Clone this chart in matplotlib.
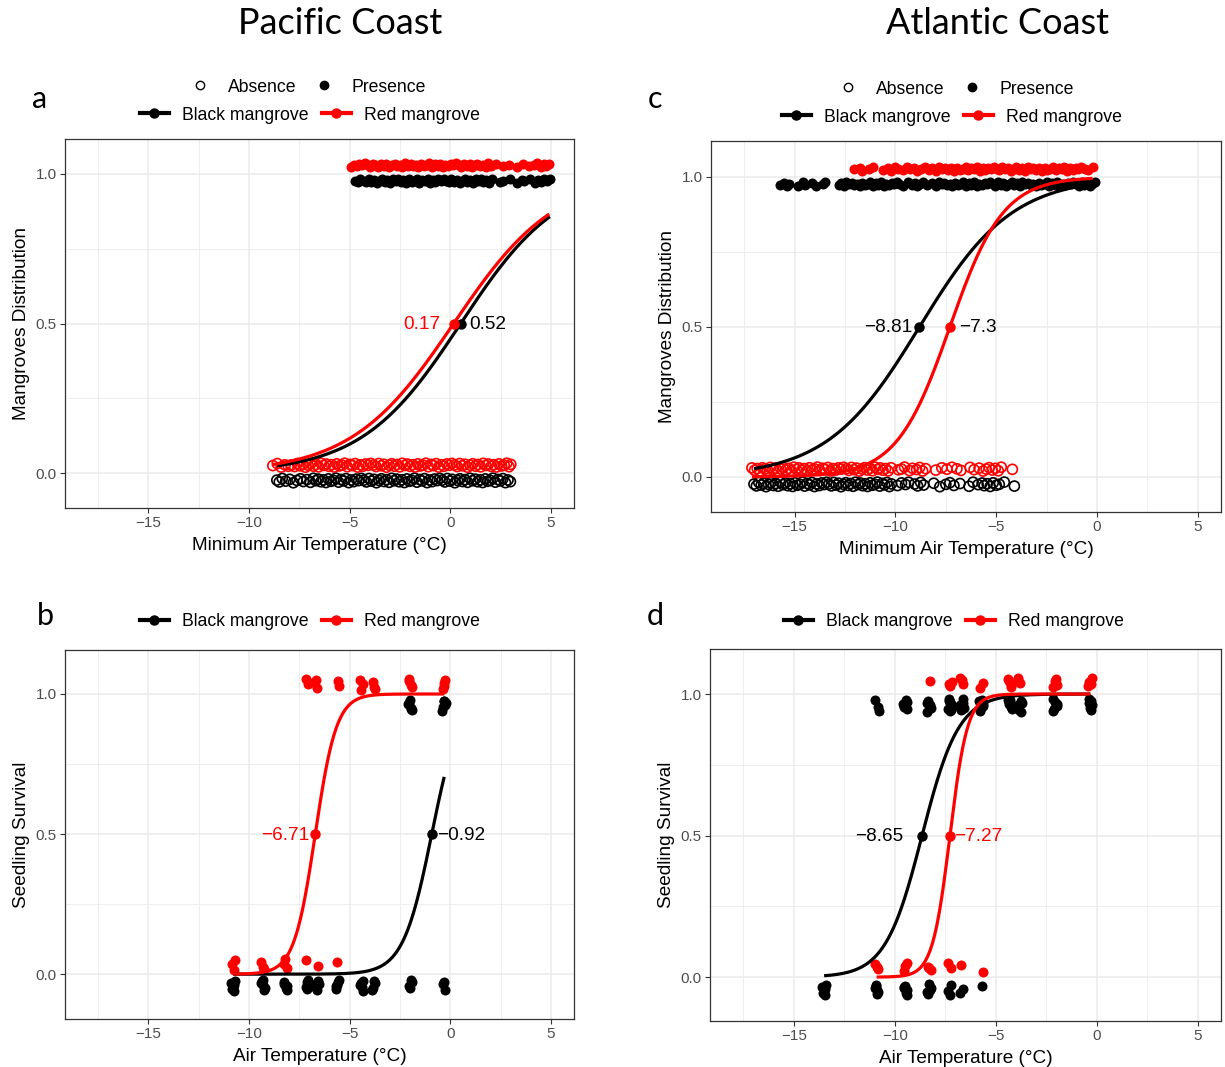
import numpy as np
import matplotlib
matplotlib.use("Agg")
import matplotlib.pyplot as plt
from matplotlib.lines import Line2D

plt.rcParams['font.family'] = ['Liberation Sans', 'DejaVu Sans']

W, H = 1225, 1067

# ---------------------------------------------------------------- data
# Pacific coast, distribution vs minimum air temperature (deg C)
pac_dist_black_pres = [
    -4.72, -4.6, -4.47, -4.31, -4.2, -4.06, -3.93, -3.79, -3.66, -3.52, -3.4,
    -3.25, -3.13, -2.98, -2.86, -2.71, -2.6, -2.46, -2.33, -2.19, -2.07, -1.92,
    -1.8, -1.66, -1.54, -1.39, -1.27, -1.12, -1.0, -0.87, -0.74, -0.6, -0.48,
    -0.33, -0.21, -0.07, 0.06, 0.2, 0.31, 0.46, 0.58, 0.73, 0.85, 0.99, 1.12,
    1.26, 1.38, 1.52, 1.65, 1.79, 1.92, 2.05, 2.45, 2.62, 2.95, 3.3, 3.55,
    3.68, 3.95, 4.2, 4.36, 4.52, 4.66, 4.8, 4.95]
pac_dist_red_pres = [
    -4.91, -4.78, -4.64, -4.52, -4.38, -4.25, -4.11, -3.99, -3.84, -3.72, -3.57,
    -3.45, -3.31, -3.18, -3.04, -2.91, -2.77, -2.65, -2.5, -2.38, -2.24, -2.11,
    -1.97, -1.85, -1.7, -1.58, -1.44, -1.31, -1.17, -1.04, -0.9, -0.78, -0.63,
    -0.51, -0.37, -0.24, -0.1, 0.02, 0.16, 0.29, 0.43, 0.55, 0.7, 0.82, 0.96,
    1.09, 1.23, 1.35, 1.5, 1.62, 1.77, 1.9, 2.02, 2.25, 2.6, 2.92, 3.3, 3.62,
    3.9, 4.18, 4.33, 4.5, 4.64, 4.78, 4.92]
pac_dist_black_abs = [
    -8.62, -8.5, -8.35, -8.18, -7.98, -7.8, -7.62, -7.45, -7.3, -7.12, -6.95,
    -6.8, -6.68, -6.56, -6.43, -6.31, -6.18, -6.06, -5.93, -5.8, -5.68, -5.55,
    -5.43, -5.3, -5.18, -5.05, -4.92, -4.8, -4.67, -4.55, -4.42, -4.3, -4.17,
    -4.04, -3.92, -3.79, -3.67, -3.54, -3.42, -3.29, -3.16, -3.04, -2.91, -2.79,
    -2.66, -2.54, -2.41, -2.28, -2.16, -2.03, -1.91, -1.78, -1.66, -1.53, -1.4,
    -1.28, -1.15, -1.03, -0.9, -0.78, -0.65, -0.52, -0.4, -0.27, -0.15, -0.02,
    0.1, 0.23, 0.36, 0.48, 0.61, 0.73, 0.86, 0.98, 1.11, 1.24, 1.36, 1.49,
    1.61, 1.74, 1.86, 1.99, 2.12, 2.24, 2.37, 2.49, 2.62, 2.74, 2.87, 2.99]
pac_dist_red_abs = [
    -8.82, -8.6, -8.4, -8.22, -8.05, -7.9, -7.74, -7.6, -7.47, -7.33, -7.2,
    -7.07, -6.94, -6.81, -6.68, -6.55, -6.42, -6.29, -6.16, -6.03, -5.9, -5.77,
    -5.64, -5.51, -5.38, -5.25, -5.12, -4.99, -4.86, -4.73, -4.6, -4.47, -4.34,
    -4.21, -4.08, -3.95, -3.82, -3.69, -3.56, -3.43, -3.3, -3.17, -3.04, -2.91,
    -2.78, -2.65, -2.52, -2.39, -2.26, -2.13, -2.0, -1.87, -1.74, -1.61, -1.48,
    -1.35, -1.22, -1.09, -0.96, -0.83, -0.7, -0.57, -0.44, -0.31, -0.18, -0.05,
    0.08, 0.21, 0.34, 0.47, 0.6, 0.73, 0.86, 0.99, 1.12, 1.25, 1.38, 1.51,
    1.64, 1.77, 1.9, 2.03, 2.16, 2.29, 2.42, 2.55, 2.68, 2.81, 2.92, 3.01]

# Atlantic coast, distribution vs minimum air temperature (deg C)
atl_dist_black_pres = [
    -15.72, -15.55, -15.4, -15.3, -14.82, -14.6, -14.48, -14.12, -13.95, -13.58,
    -13.5, -12.82, -12.7, -12.56, -12.43, -12.3, -12.17, -12.04, -11.9, -11.78,
    -11.64, -11.51, -11.38, -11.25, -11.11, -10.98, -10.85, -10.72, -10.58,
    -10.45, -10.32, -10.19, -10.05, -9.93, -9.8, -9.62, -9.38, -9.2, -9.05,
    -8.92, -8.78, -8.62, -8.45, -8.2, -7.98, -7.84, -7.7, -7.57, -7.43, -7.3,
    -7.17, -7.04, -6.9, -6.77, -6.64, -6.5, -6.37, -6.24, -6.1, -5.97, -5.84,
    -5.7, -5.57, -5.44, -5.3, -5.17, -5.04, -4.9, -4.77, -4.64, -4.5, -4.37,
    -4.24, -4.1, -3.97, -3.84, -3.7, -3.57, -3.44, -3.3, -3.17, -3.04, -2.9,
    -2.77, -2.64, -2.5, -2.37, -2.24, -2.1, -1.97, -1.84, -1.7, -1.57, -1.44,
    -1.3, -1.17, -1.04, -0.9, -0.77, -0.64, -0.5, -0.37, -0.25, -0.12]
atl_dist_red_pres = [
    -12.05, -11.75, -11.68, -11.3, -11.1, -10.6, -10.35, -10.2, -10.0, -9.85,
    -9.62, -9.45, -9.3, -9.1, -8.95, -8.72, -8.55, -8.35, -8.2, -8.0, -7.85,
    -7.7, -7.52, -7.38, -7.22, -7.08, -6.93, -6.8, -6.66, -6.52, -6.38, -6.24,
    -6.1, -5.96, -5.82, -5.68, -5.54, -5.4, -5.26, -5.12, -4.98, -4.84, -4.7,
    -4.56, -4.42, -4.28, -4.14, -4.0, -3.86, -3.72, -3.58, -3.44, -3.3, -3.16,
    -3.02, -2.88, -2.74, -2.6, -2.46, -2.32, -2.18, -2.04, -1.9, -1.76, -1.62,
    -1.48, -1.34, -1.2, -1.06, -0.92, -0.78, -0.62, -0.45, -0.22]
atl_dist_black_abs = [
    -17.02, -16.9, -16.78, -16.66, -16.54, -16.42, -16.3, -16.18, -16.06,
    -15.94, -15.82, -15.7, -15.58, -15.46, -15.34, -15.22, -15.1, -14.98,
    -14.86, -14.74, -14.62, -14.5, -14.38, -14.26, -14.14, -14.02, -13.9,
    -13.78, -13.66, -13.54, -13.42, -13.3, -13.18, -13.06, -12.94, -12.82,
    -12.7, -12.58, -12.46, -12.34, -12.22, -12.1, -11.98, -11.86, -11.74,
    -11.62, -11.5, -11.38, -11.26, -11.14, -11.02, -10.9, -10.78, -10.66,
    -10.54, -10.42, -10.3, -10.2, -9.9, -9.7, -9.5, -9.35, -9.05, -8.9, -8.75,
    -8.6, -8.1, -7.8, -7.5, -7.3, -7.1, -6.8, -6.35, -6.15, -5.9, -5.7, -5.6,
    -5.45, -5.3, -5.15, -5.0, -4.85, -4.6, -4.1]
atl_dist_red_abs = [
    -17.12, -16.99, -16.86, -16.73, -16.6, -16.47, -16.34, -16.21, -16.08,
    -15.95, -15.82, -15.69, -15.56, -15.43, -15.3, -15.17, -15.04, -14.91,
    -14.78, -14.65, -14.52, -14.39, -14.26, -14.13, -14.0, -13.87, -13.74,
    -13.61, -13.48, -13.35, -13.22, -13.09, -12.96, -12.83, -12.7, -12.57,
    -12.44, -12.31, -12.18, -12.05, -11.92, -11.79, -11.66, -11.53, -11.4,
    -11.27, -11.14, -11.01, -10.88, -10.75, -10.62, -10.49, -10.36, -10.22,
    -9.85, -9.7, -9.55, -9.3, -9.15, -8.95, -8.8, -8.65, -8.5, -8.0, -7.7,
    -7.45, -7.2, -6.95, -6.75, -6.3, -6.1, -5.85, -5.65, -5.5, -5.35, -5.2,
    -5.05, -4.9, -4.75, -4.2]

# Seedling survival experiments: treatment temperatures and seedling counts
pac_surv_temps = [-10.8, -9.3, -8.2, -7.1, -6.6, -5.6, -4.4, -3.8, -2.0, -0.3]
pac_surv_black_alive = [0, 0, 0, 0, 0, 0, 0, 0, 6, 6]
pac_surv_black_dead = [6, 6, 5, 6, 5, 5, 5, 4, 4, 3]
pac_surv_red_alive = [0, 0, 0, 3, 2, 2, 3, 3, 4, 4]
pac_surv_red_dead = [3, 3, 3, 1, 1, 1, 0, 0, 0, 0]

atl_surv_temps = [-13.5, -10.9, -9.47, -8.3, -7.26, -6.68, -5.72, -4.3, -3.82, -2.06, -0.32]
atl_surv_black_alive = [0, 3, 6, 5, 8, 6, 6, 6, 6, 6, 6]
atl_surv_black_dead = [6, 6, 6, 5, 3, 2, 1, 0, 0, 0, 0]
atl_surv_red_alive = [0, 0, 0, 1, 3, 3, 2, 4, 3, 4, 4]
atl_surv_red_dead = [0, 3, 3, 3, 2, 1, 1, 0, 0, 0, 0]

# Logistic fits: temperature at 50 % and slope
pac_dist_ld50 = {'black': 0.52, 'red': 0.17}
pac_dist_slope = {'black': 0.405, 'red': 0.393}
atl_dist_ld50 = {'black': -8.81, 'red': -7.3}
atl_dist_slope = {'black': 0.435, 'red': 0.757}
pac_surv_ld50 = {'black': -0.92, 'red': -6.71}
pac_surv_slope = {'black': 1.4, 'red': 1.9}
atl_surv_ld50 = {'black': -8.65, 'red': -7.27}
atl_surv_slope = {'black': 1.1, 'red': 2.3}

x_ticks = [-15, -10, -5, 0, 5]
y_ticks = [0.0, 0.5, 1.0]

# ---------------------------------------------------------------- style
COL = {'black': '#000000', 'red': '#FF0000'}
GRID = '#EBEBEB'
JIT = np.array([0.15, -0.62, 0.83, -0.27, 0.48, -0.95, 0.02, 0.71, -0.44,
                0.36, -0.78, 0.92, -0.1, 0.58, -0.53, 0.27, -0.86, 0.66,
                -0.35, 0.05, 0.97, -0.7, 0.41, -0.18, 0.79, -0.9, 0.22,
                -0.48, 0.61, -0.05, 0.88])
JIT_X = np.array([0.4, -0.6, 0.9, -0.2, -0.85, 0.55, 0.1, -0.45, 0.75, -0.95,
                  0.3, -0.3, 0.65, -0.7])
PT = 72.0 / 100.0  # points per pixel
MARK = 52

fig = plt.figure(figsize=(W / 100, H / 100), dpi=100)


def px_axes(left, top, right, bottom):
    return fig.add_axes([left / W, 1 - bottom / H, (right - left) / W, (bottom - top) / H])


def style(ax, ylim, xlabel, ylabel):
    ax.set_xlim(-19.15, 6.15)
    ax.set_ylim(*ylim)
    ax.set_xticks(x_ticks)
    ax.set_xticklabels(['\u2212' + str(-t) if t < 0 else str(t) for t in x_ticks])
    ax.set_yticks(y_ticks)
    ax.set_yticklabels([f'{t:.1f}' for t in y_ticks])
    ax.set_xticks([-17.5, -12.5, -7.5, -2.5, 2.5], minor=True)
    ax.set_yticks([0.25, 0.75], minor=True)
    ax.grid(True, which='major', color=GRID, lw=1.1)
    ax.grid(True, which='minor', color=GRID, lw=0.6)
    ax.set_axisbelow(True)
    for s in ax.spines.values():
        s.set_color('#333333')
        s.set_linewidth(0.9)
    ax.tick_params(which='major', length=3.5, width=0.8, color='#333333',
                   labelcolor='#4D4D4D', labelsize=11, pad=2.5)
    ax.tick_params(which='minor', length=0)
    ax.set_xlabel(xlabel, fontsize=13.7, labelpad=4.5)
    ax.set_ylabel(ylabel, fontsize=13.7, labelpad=4)


def band(ax, xs, yval, dodge, height, species, filled, hjit=0.0, shift=0):
    xs = np.asarray(xs, dtype=float)
    n = len(xs)
    jy = np.roll(np.resize(JIT, n), shift) * height
    jx = np.resize(JIT_X, n) * hjit
    kw = dict(s=MARK, zorder=2)
    if filled:
        ax.scatter(xs + jx, yval + dodge + jy, color=COL[species], lw=0, **kw)
    else:
        ax.scatter(xs + jx, yval + dodge + jy, facecolors='none',
                   edgecolors=COL[species], lw=1.2, **kw)


def expand(temps, counts):
    return np.repeat(np.asarray(temps, float), counts)


def curve(ax, species, xs_all, ld50, slope):
    lo, hi = min(xs_all), max(xs_all)
    x = np.linspace(lo, hi, 300)
    p = 1.0 / (1.0 + np.exp(-slope * (x - ld50)))
    ax.plot(x, p, color=COL[species], lw=2.3, zorder=4, solid_capstyle='butt')
    ax.plot([ld50], [0.5], 'o', color=COL[species], ms=6.5, zorder=5)


def label(ax, ld50, color, side, dx_px, dy_px=-1):
    txt = ('%g' % ld50).replace('-', '\u2212')
    ax.annotate(txt, (ld50, 0.5), xytext=(dx_px * PT, dy_px * PT),
                textcoords='offset points', ha='right' if side == 'left' else 'left',
                va='center', fontsize=13.7, color=color, zorder=6)


# ---------------------------------------------------------------- panel a
ax_a = px_axes(65, 139, 574, 508)
style(ax_a, (-0.117, 1.117), 'Minimum Air Temperature (\u00b0C)', 'Mangroves Distribution')
band(ax_a, pac_dist_black_abs, 0.0, -0.025, 0.008, 'black', False)
band(ax_a, pac_dist_red_abs, 0.0, 0.026, 0.007, 'red', False, shift=5)
band(ax_a, pac_dist_black_pres, 1.0, -0.023, 0.008, 'black', True, shift=3)
band(ax_a, pac_dist_red_pres, 1.0, 0.029, 0.007, 'red', True, shift=9)
curve(ax_a, 'black', pac_dist_black_abs + pac_dist_black_pres,
      pac_dist_ld50['black'], pac_dist_slope['black'])
curve(ax_a, 'red', pac_dist_red_abs + pac_dist_red_pres,
      pac_dist_ld50['red'], pac_dist_slope['red'])
label(ax_a, pac_dist_ld50['red'], COL['red'], 'left', -13)
label(ax_a, pac_dist_ld50['black'], COL['black'], 'right', 9)

# ---------------------------------------------------------------- panel c
ax_c = px_axes(711, 141, 1221, 512)
style(ax_c, (-0.117, 1.12), 'Minimum Air Temperature (\u00b0C)', 'Mangroves Distribution')
band(ax_c, atl_dist_black_abs, 0.0, -0.025, 0.008, 'black', False)
band(ax_c, atl_dist_red_abs, 0.0, 0.026, 0.007, 'red', False, shift=5)
band(ax_c, atl_dist_black_pres, 1.0, -0.024, 0.008, 'black', True, shift=3)
band(ax_c, atl_dist_red_pres, 1.0, 0.027, 0.007, 'red', True, shift=9)
curve(ax_c, 'black', atl_dist_black_abs + atl_dist_black_pres,
      atl_dist_ld50['black'], atl_dist_slope['black'])
curve(ax_c, 'red', atl_dist_red_abs + atl_dist_red_pres,
      atl_dist_ld50['red'], atl_dist_slope['red'])
label(ax_c, atl_dist_ld50['black'], COL['black'], 'left', -7)
label(ax_c, atl_dist_ld50['red'], COL['black'], 'right', 9)

# ---------------------------------------------------------------- panel b
ax_b = px_axes(65, 650, 574, 1019)
style(ax_b, (-0.16, 1.157), 'Air Temperature (\u00b0C)', 'Seedling Survival')
b_black_dead = expand(pac_surv_temps, pac_surv_black_dead)
b_black_alive = expand(pac_surv_temps, pac_surv_black_alive)
b_red_dead = expand(pac_surv_temps, pac_surv_red_dead)
b_red_alive = expand(pac_surv_temps, pac_surv_red_alive)
band(ax_b, b_black_dead, 0.0, -0.04, 0.02, 'black', True, hjit=0.1)
band(ax_b, b_black_alive, 1.0, -0.04, 0.02, 'black', True, hjit=0.1, shift=4)
band(ax_b, b_red_dead, 0.0, 0.035, 0.02, 'red', True, hjit=0.1, shift=7)
band(ax_b, b_red_alive, 1.0, 0.035, 0.02, 'red', True, hjit=0.1, shift=2)
curve(ax_b, 'black', list(b_black_dead) + list(b_black_alive),
      pac_surv_ld50['black'], pac_surv_slope['black'])
curve(ax_b, 'red', list(b_red_dead) + list(b_red_alive),
      pac_surv_ld50['red'], pac_surv_slope['red'])
label(ax_b, pac_surv_ld50['red'], COL['red'], 'left', -6)
label(ax_b, pac_surv_ld50['black'], COL['black'], 'right', 5)

# ---------------------------------------------------------------- panel d
ax_d = px_axes(710, 649, 1221, 1021)
style(ax_d, (-0.155, 1.159), 'Air Temperature (\u00b0C)', 'Seedling Survival')
d_black_dead = expand(atl_surv_temps, atl_surv_black_dead)
d_black_alive = expand(atl_surv_temps, atl_surv_black_alive)
d_red_dead = expand(atl_surv_temps, atl_surv_red_dead)
d_red_alive = expand(atl_surv_temps, atl_surv_red_alive)
band(ax_d, d_black_dead, 0.0, -0.045, 0.02, 'black', True, hjit=0.1)
band(ax_d, d_black_alive, 1.0, -0.04, 0.023, 'black', True, hjit=0.12, shift=4)
band(ax_d, d_red_dead, 0.0, 0.035, 0.016, 'red', True, hjit=0.1, shift=7)
band(ax_d, d_red_alive, 1.0, 0.04, 0.018, 'red', True, hjit=0.1, shift=2)
curve(ax_d, 'black', list(d_black_dead) + list(d_black_alive),
      atl_surv_ld50['black'], atl_surv_slope['black'])
curve(ax_d, 'red', list(d_red_dead) + list(d_red_alive),
      atl_surv_ld50['red'], atl_surv_slope['red'])
label(ax_d, atl_surv_ld50['black'], COL['black'], 'left', -19)
label(ax_d, atl_surv_ld50['red'], COL['red'], 'right', 4)

# ---------------------------------------------------------------- legends
status_handles = [
    Line2D([], [], ls='', marker='o', mfc='none', mec='black', mew=1.0, ms=6),
    Line2D([], [], ls='', marker='o', color='black', ms=6)]
species_handles = [
    Line2D([], [], color='black', lw=3, marker='o', ms=6.5),
    Line2D([], [], color='red', lw=3, marker='o', ms=6.5)]
leg_kw = dict(frameon=False, ncol=2, fontsize=12.7, handlelength=1.6,
              handletextpad=0.75, columnspacing=0.8, loc='center',
              borderpad=0, borderaxespad=0)


def legend_row(handles, labels, cx, cy):
    return fig.legend(handles, labels, bbox_to_anchor=(cx / W, 1 - cy / H), **leg_kw)


legend_row(status_handles, ['Absence', 'Presence'], 306, 87)
legend_row(species_handles, ['Black mangrove', 'Red mangrove'], 310, 115)
legend_row(status_handles, ['Absence', 'Presence'], 954, 89)
legend_row(species_handles, ['Black mangrove', 'Red mangrove'], 952, 117)
legend_row(species_handles, ['Black mangrove', 'Red mangrove'], 310, 622)
legend_row(species_handles, ['Black mangrove', 'Red mangrove'], 954, 622)

# ---------------------------------------------------------------- titles
title_font = ['Lato', 'DejaVu Sans']
fig.text(340 / W, 1 - 24 / H, 'Pacific Coast', ha='center', va='center',
         fontsize=26, family=title_font)
fig.text(998 / W, 1 - 24 / H, 'Atlantic Coast', ha='center', va='center',
         fontsize=26, family=title_font)
for letter, x, y in [('a', 40, 99), ('b', 45, 616), ('c', 655, 99), ('d', 655, 616)]:
    fig.text(x / W, 1 - y / H, letter, ha='center', va='center',
             fontsize=22, family=title_font)

fig.savefig('out.png', dpi=100, facecolor='white')
